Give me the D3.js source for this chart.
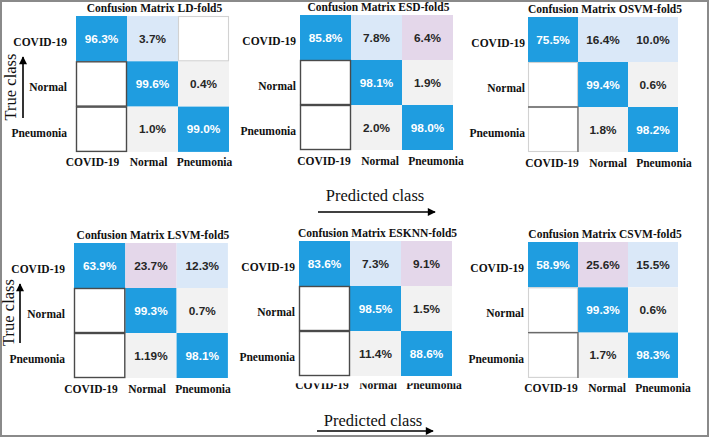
<!DOCTYPE html>
<html>
<head>
<meta charset="utf-8">
<script src="https://cdn.jsdelivr.net/npm/d3@7"></script>
<style>
  html, body { margin: 0; padding: 0; background: #fff; }
  svg { display: block; }
</style>
</head>
<body>
<svg id="chart" width="709" height="437"></svg>
<script>
// ---------------- DATA ----------------
const classes = ["COVID-19", "Normal", "Pneumonia"];
const modelNames = ["LD", "ESD", "OSVM", "LSVM", "ESKNN", "CSVM"];

// percentages per row (true class) and column (predicted class); null = empty cell
const ldValues    = [["96.3", "3.7", null], [null, "99.6", "0.4"], [null, "1.0", "99.0"]];
const esdValues   = [["85.8", "7.8", "6.4"], [null, "98.1", "1.9"], [null, "2.0", "98.0"]];
const osvmValues  = [["75.5", "16.4", "10.0"], [null, "99.4", "0.6"], [null, "1.8", "98.2"]];
const lsvmValues  = [["63.9", "23.7", "12.3"], [null, "99.3", "0.7"], [null, "1.19", "98.1"]];
const esknnValues = [["83.6", "7.3", "9.1"], [null, "98.5", "1.5"], [null, "11.4", "88.6"]];
const csvmValues  = [["58.9", "25.6", "15.5"], [null, "99.3", "0.6"], [null, "1.7", "98.3"]];

// shading group of the COVID-19 row's off-diagonal cells (A / B)
const ldRow0Group    = ["A", null];
const esdRow0Group   = ["A", "B"];
const osvmRow0Group  = ["A", "A"];
const lsvmRow0Group  = ["B", "A"];
const esknnRow0Group = ["A", "B"];
const csvmRow0Group  = ["B", "A"];

const axisTitleX = "Predicted class";
const axisTitleY = "True class";

// ---------------- LAYOUT / STYLE ----------------
const values = [ldValues, esdValues, osvmValues, lsvmValues, esknnValues, csvmValues];
const groups = [ldRow0Group, esdRow0Group, osvmRow0Group, lsvmRow0Group, esknnRow0Group, csvmRow0Group];

const layout = [
  { x0: 76,  y0: 16,  cw: 51,   ch: 45.3, gap: 9, shift: -7.5, empty: "dark",  clipLabels: false },
  { x0: 300, y0: 15,  cw: 51,   ch: 45,   gap: 4, shift: 0,    empty: "dark",  clipLabels: false },
  { x0: 528, y0: 17,  cw: 50,   ch: 45,   gap: 3, shift: 0,    empty: "light", clipLabels: false },
  { x0: 74,  y0: 243, cw: 51.3, ch: 45,   gap: 9, shift: -7,   empty: "dark",  clipLabels: false },
  { x0: 299, y0: 241, cw: 51,   ch: 45,   gap: 4, shift: -1,   empty: "dark",  clipLabels: true  },
  { x0: 528, y0: 242, cw: 50,   ch: 45.3, gap: 4, shift: -1,   empty: "light", clipLabels: false }
];

const colors = {
  diag: "#1f9de0",
  A: "#dae8f8",
  B: "#e4d7ea",
  off: "#f2f2f2",
  empty: "#ffffff"
};

const serif = "'Liberation Serif', 'Times New Roman', Times, serif";
const sans = "'Liberation Sans', Arial, Helvetica, sans-serif";

const svg = d3.select("#chart");

// outer frame
svg.append("rect")
  .attr("x", 1).attr("y", 1).attr("width", 707).attr("height", 435)
  .attr("fill", "#fff").attr("stroke", "#8a8a8a").attr("stroke-width", 2);

const defs = svg.append("defs");
defs.append("marker")
  .attr("id", "arrow")
  .attr("viewBox", "0 0 10 10")
  .attr("refX", 9).attr("refY", 5)
  .attr("markerUnits", "userSpaceOnUse")
  .attr("markerWidth", 10).attr("markerHeight", 8)
  .attr("orient", "auto")
  .append("path").attr("d", "M0,0 L10,5 L0,10 z").attr("fill", "#000");

values.forEach((mat, p) => {
  const L = layout[p];
  const x = d3.scaleBand().domain(classes).range([L.x0, L.x0 + 3 * L.cw]);
  const y = d3.scaleBand().domain(classes).range([L.y0, L.y0 + 3 * L.ch]);
  const g = svg.append("g");

  const cells = [];
  mat.forEach((row, r) => row.forEach((v, c) => {
    let kind;
    if (v === null) kind = "empty";
    else if (r === c) kind = "diag";
    else if (r === 0) kind = groups[p][c - 1];
    else kind = "off";
    cells.push({ r, c, v, kind });
  }));

  // column labels (drawn first so cells can overlap them)
  const labelX = d3.scalePoint().domain(classes)
    .range([L.x0 + 24 + L.shift, L.x0 + 24 + 112 + L.shift]);
  const colLabelG = g.append("g");
  const bottom = L.y0 + 3 * L.ch;
  colLabelG.selectAll("text").data(classes).join("text")
    .attr("x", d => labelX(d))
    .attr("y", L.clipLabels ? bottom + 13 : bottom + 14.5)
    .attr("text-anchor", "middle")
    .attr("font-family", serif).attr("font-weight", "bold").attr("font-size", 11.5)
    .attr("fill", "#111")
    .text(d => d);
  if (L.clipLabels) {
    g.append("rect")
      .attr("x", L.x0 - 5).attr("y", bottom)
      .attr("width", 3 * L.cw + 20).attr("height", 7.3)
      .attr("fill", "#fff");
  }

  // filled cells
  const filled = cells.filter(d => d.kind !== "empty");
  g.selectAll("rect.cell").data(filled).join("rect")
    .attr("class", "cell")
    .attr("x", d => x(classes[d.c]))
    .attr("y", d => y(classes[d.r]))
    .attr("width", x.bandwidth())
    .attr("height", y.bandwidth())
    .attr("fill", d => colors[d.kind]);

  // empty cells
  const empties = cells.filter(d => d.kind === "empty");
  g.selectAll("rect.empty").data(empties).join("rect")
    .attr("class", "empty")
    .attr("x", d => x(classes[d.c]) + 0.5)
    .attr("y", d => y(classes[d.r]) + 0.5)
    .attr("width", x.bandwidth() - 1)
    .attr("height", y.bandwidth() - 1)
    .attr("fill", "#fff")
    .attr("stroke", d => (L.empty === "dark" && d.c === 0) ? "#4a4a4a" : "#d2d2d2")
    .attr("stroke-width", d => (L.empty === "dark" && d.c === 0) ? 1.4 : 1.1);

  if (L.empty === "light") {
    const bx = x(classes[0]), by = y(classes[2]);
    g.append("path")
      .attr("d", `M${bx},${by} H${bx + x.bandwidth()} V${by + y.bandwidth()}`)
      .attr("fill", "none").attr("stroke", "#6a6a6a").attr("stroke-width", 1.3);
  }

  // cell texts
  g.selectAll("text.val").data(filled).join("text")
    .attr("class", "val")
    .attr("x", d => x(classes[d.c]) + x.bandwidth() / 2)
    .attr("y", d => y(classes[d.r]) + y.bandwidth() / 2 + 4)
    .attr("text-anchor", "middle")
    .attr("font-family", sans).attr("font-weight", "bold").attr("font-size", 11.8)
    .attr("fill", d => d.kind === "diag" ? "#fff" : "#262626")
    .text(d => d.v + "%");

  // row labels
  g.selectAll("text.row").data(classes).join("text")
    .attr("class", "row")
    .attr("x", L.x0 - L.gap)
    .attr("y", d => y(d) + y.bandwidth() / 2 + 7.5)
    .attr("text-anchor", "end")
    .attr("font-family", serif).attr("font-weight", "bold").attr("font-size", 11.5)
    .attr("fill", "#111")
    .text(d => d);

  // title
  g.append("text")
    .attr("x", L.x0 + 1.5 * L.cw + 2)
    .attr("y", L.y0 - 4.5)
    .attr("text-anchor", "middle")
    .attr("font-family", serif).attr("font-weight", "bold").attr("font-size", 11.5)
    .attr("fill", "#111")
    .text(`Confusion Matrix ${modelNames[p]}-fold5`);
});

// axis titles with arrows
const xTitles = [{ tx: 375, ty: 201, ay: 212, a1: 318, a2: 435 },
                 { tx: 373, ty: 426, ay: 431, a1: 317, a2: 433 }];
xTitles.forEach(t => {
  svg.append("text")
    .attr("x", t.tx).attr("y", t.ty)
    .attr("text-anchor", "middle")
    .attr("font-family", serif).attr("font-size", 16.5).attr("fill", "#111")
    .text(axisTitleX);
  svg.append("line")
    .attr("x1", t.a1).attr("x2", t.a2).attr("y1", t.ay).attr("y2", t.ay)
    .attr("stroke", "#000").attr("stroke-width", 1.6)
    .attr("marker-end", "url(#arrow)");
});

const yTitles = [{ tx: 15.5, ty: 87, ax: 23, a1: 118, a2: 57 },
                 { tx: 13.5, ty: 312.5, ax: 20, a1: 343, a2: 284 }];
yTitles.forEach(t => {
  svg.append("text")
    .attr("transform", `translate(${t.tx},${t.ty}) rotate(-90)`)
    .attr("text-anchor", "middle")
    .attr("font-family", serif).attr("font-size", 16.5).attr("fill", "#111")
    .text(axisTitleY);
  svg.append("line")
    .attr("x1", t.ax).attr("x2", t.ax).attr("y1", t.a1).attr("y2", t.a2)
    .attr("stroke", "#000").attr("stroke-width", 1.6)
    .attr("marker-end", "url(#arrow)");
});
</script>
</body>
</html>
